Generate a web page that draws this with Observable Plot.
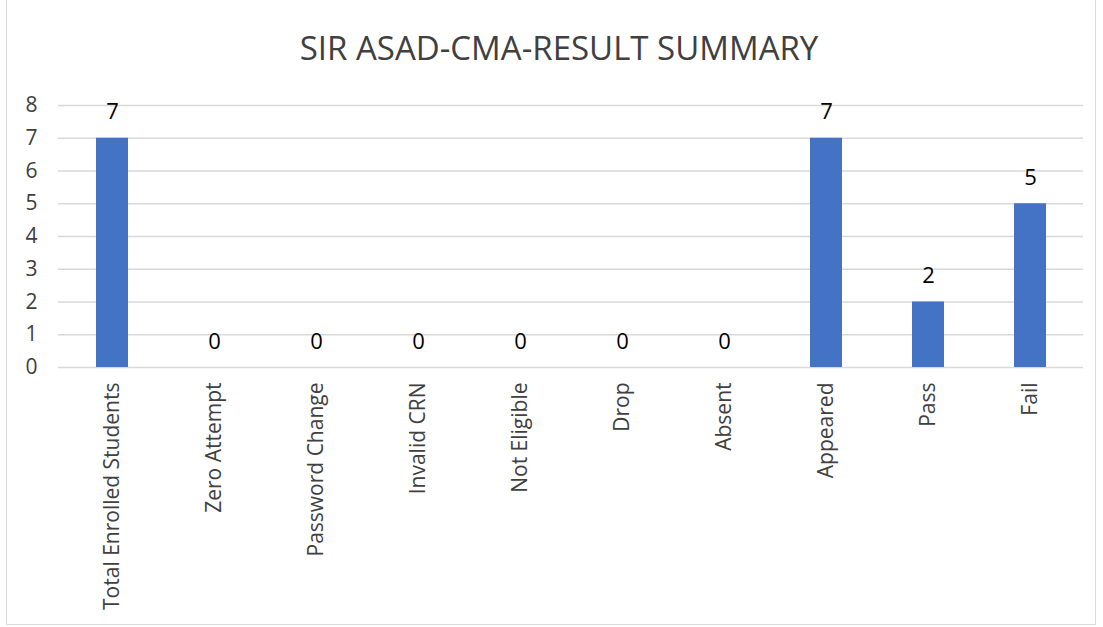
<!DOCTYPE html>
<html>
<head>
<meta charset="utf-8">
<script src="https://cdn.jsdelivr.net/npm/d3@7"></script>
<script src="https://cdn.jsdelivr.net/npm/@observablehq/plot@0.6"></script>
<style>
  html, body { margin: 0; padding: 0; background: #fff; }
  #frame { position: absolute; left: 6px; top: -1px; width: 1090px; height: 626px; border: 1px solid #d9d9d9; box-sizing: border-box; overflow: hidden; }
  #title { height: 81px; box-sizing: border-box; padding-top: 28px; padding-left: 16px; text-align: center; font-family: "Open Sans", sans-serif; font-size: 33px; color: #404040; line-height: 40px; }
  svg { display: block; }
</style>
</head>
<body>
<div id="frame">
  <div id="title">SIR ASAD-CMA-RESULT SUMMARY</div>
  <div id="chart"></div>
</div>
<script>
const categories = ["Total Enrolled Students", "Zero Attempt", "Password Change", "Invalid CRN", "Not Eligible", "Drop", "Absent", "Appeared", "Pass", "Fail"];
const values = [7, 0, 0, 0, 0, 0, 0, 7, 2, 5];
const yTicks = [0, 1, 2, 3, 4, 5, 6, 7, 8];

const data = categories.map((c, i) => ({category: c, value: values[i]}));

const plot = Plot.plot({
  width: 1088,
  height: 540,
  marginTop: 24,
  marginBottom: 254,
  marginLeft: 51,
  marginRight: 12,
  style: { fontFamily: "Open Sans, sans-serif", background: "#fff", color: "#404040" },
  x: { domain: categories, paddingInner: 0.69, paddingOuter: 0.345, label: null },
  y: { domain: [0, 8], label: null },
  marks: [
    Plot.gridY(yTicks, { stroke: "#d9d9d9", strokeOpacity: 1, strokeWidth: 1.5 }),
    Plot.barY(data, { x: "category", y: "value", fill: "#4472C4" }),
    Plot.text(data, { x: "category", y: "value", text: d => String(d.value), dy: -26, fontSize: 22, fill: "#000" }),
    Plot.axisY(yTicks, { tickSize: 0, tickPadding: 21, fontSize: 21, fill: "#404040", label: null }),
    Plot.axisX({ tickSize: 0, tickPadding: 15, tickRotate: -90, fontSize: 21, fill: "#404040", label: null })
  ]
});
document.getElementById("chart").appendChild(plot);
</script>
</body>
</html>
